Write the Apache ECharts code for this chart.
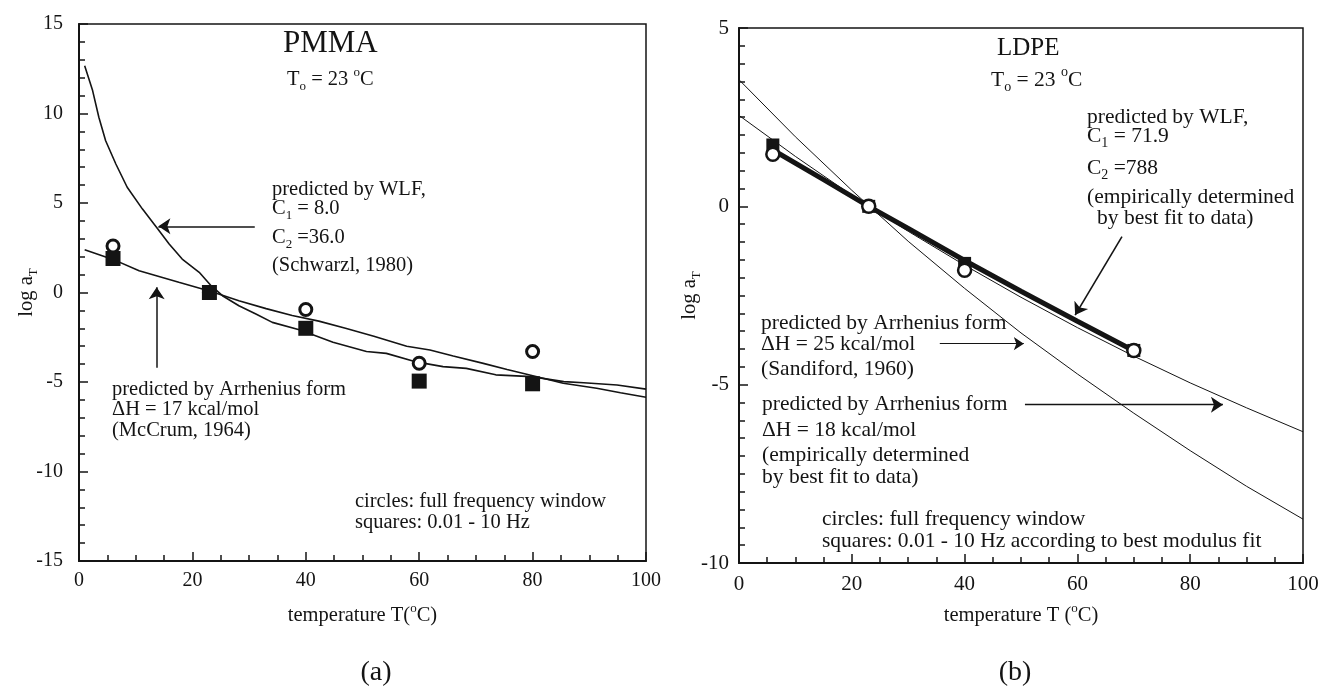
<!DOCTYPE html>
<html>
<head>
<meta charset="utf-8">
<title>log aT vs temperature: PMMA / LDPE</title>
<script src="https://cdn.jsdelivr.net/npm/echarts@6/dist/echarts.min.js"></script>
<style>
  html, body { margin: 0; padding: 0; background: #fff; }
  #chart { width: 1323px; height: 687px; }
</style>
</head>
<body>
<div id="chart"></div>
<script>
/* shift factor log aT against temperature, (a) PMMA and (b) LDPE, To = 23 C */

// ---- (a) PMMA ----
var pmmaTemp    = [6, 23, 40, 60, 80];
var pmmaCircles = [2.6, 0, -0.95, -3.95, -3.3];   // full frequency window
var pmmaSquares = [1.9, 0, -2.0, -4.95, -5.1];    // 0.01 - 10 Hz

// WLF, C1 = 8.0, C2 = 36.0 (Schwarzl, 1980)
var pmmaWlfTemp = [1, 2.4, 3.5, 4.7, 6.5, 8.5, 11.2, 13.9, 15.9, 18.2, 21.2, 23.3, 25.3, 28.2, 31.2,
                   34.1, 39, 44.8, 50.7, 54.2, 59.2, 64.2, 68.3, 73.5, 79.8, 85.5, 89, 94.9, 100];
var pmmaWlfLog  = [12.67, 11.28, 9.79, 8.48, 7.18, 5.88, 4.66, 3.55, 2.71, 1.87, 1.13, 0.38, -0.18, -0.74, -1.2,
                   -1.67, -2.09, -2.78, -3.3, -3.4, -3.86, -4.14, -4.24, -4.6, -4.7, -4.98, -5.04, -5.17, -5.4];

// Arrhenius, dH = 17 kcal/mol (McCrum, 1964)
var pmmaArrTemp = [1, 6, 10.6, 17.6, 23.3, 28.2, 33, 37.6, 42.3, 47, 52, 57.8, 61.9, 66, 71.3, 75.5, 79.5, 85.4, 91.3, 95.5, 100];
var pmmaArrLog  = [2.39, 1.85, 1.22, 0.57, 0.05, -0.46, -0.9, -1.29, -1.6, -2.0, -2.45, -3.0, -3.21, -3.55, -3.96,
                   -4.3, -4.61, -5.07, -5.35, -5.6, -5.85];

// ---- (b) LDPE ----
var ldpeTemp    = [6, 23, 40, 70];
var ldpeCircles = [1.46, 0, -1.79, -4.04];
var ldpeSquares = [1.72, 0, -1.6, -4.04];

// WLF, C1 = 71.9, C2 = 788 (best fit)
var ldpeWlfTemp = [6, 15, 23, 30, 40, 50, 60, 70];
var ldpeWlfLog  = [1.58, 0.75, 0, -0.62, -1.52, -2.38, -3.22, -4.05];

// Arrhenius lines
var ldpeArrTemp = [0, 10, 20, 30, 40, 50, 60, 70, 80, 90, 100];
var ldpeArr25   = [3.55, 1.95, 0.45, -0.98, -2.3, -3.55, -4.7, -5.8, -6.85, -7.85, -8.77];  // Sandiford, 1960
var ldpeArr18   = [2.55, 1.4, 0.31, -0.7, -1.65, -2.55, -3.4, -4.2, -4.95, -5.65, -6.32];  // best fit

var F = 'Liberation Serif, Times New Roman, serif';
var INK = '#141414';

function pairs(xs, ys) {
	return xs.map(function (x, i) { return [x, ys[i]]; });
}

// sub/superscript styles for rich text
function rich(size) {
	var small = Math.round(size * 0.64);
	var lh = Math.round(size * 1.1);
	var off = Math.round(size * 0.7);
	return {
		s: { fontFamily: F, fontSize: small, lineHeight: lh, padding: [off, 0, 0, 0], color: INK },
		p: { fontFamily: F, fontSize: small, lineHeight: lh, padding: [0, 0, off, 0], color: INK }
	};
}

function xAx(gi, name, fs, margin, gap) {
	return {
		type: 'value', gridIndex: gi, min: 0, max: 100, interval: 20,
		name: name, nameLocation: 'middle', nameGap: gap, nameMoveOverlap: false,
		nameTextStyle: { fontFamily: F, fontSize: 20.5, color: INK, rich: rich(20.5) },
		axisLine: { show: true, onZero: false, lineStyle: { color: INK, width: 2 } },
		axisTick: { show: true, inside: true, length: 9, lineStyle: { color: INK, width: 1.5 } },
		minorTick: { show: true, splitNumber: 4, length: 6, lineStyle: { color: INK, width: 1.5 } },
		axisLabel: { fontFamily: F, fontSize: fs, color: INK, margin: margin, showMinLabel: true, showMaxLabel: true },
		splitLine: { show: false }
	};
}

function yAx(gi, min, max, minorSplit, fs, margin, gap) {
	return {
		type: 'value', gridIndex: gi, min: min, max: max, interval: 5,
		name: 'log a{s|T}', nameLocation: 'middle', nameGap: gap, nameRotate: 90, nameMoveOverlap: false,
		nameTextStyle: { fontFamily: F, fontSize: 20.5, color: INK, rich: rich(20.5) },
		axisLine: { show: true, onZero: false, lineStyle: { color: INK, width: 2 } },
		axisTick: { show: true, inside: true, length: 9, lineStyle: { color: INK, width: 1.5 } },
		minorTick: { show: true, splitNumber: minorSplit, length: 6, lineStyle: { color: INK, width: 1.5 } },
		axisLabel: { fontFamily: F, fontSize: fs, color: INK, margin: margin, showMinLabel: true, showMaxLabel: true },
		splitLine: { show: false }
	};
}

function curve(gi, data, width) {
	return {
		type: 'line', xAxisIndex: gi, yAxisIndex: gi, data: data,
		showSymbol: false, symbol: 'none', silent: true,
		lineStyle: { color: INK, width: width, opacity: 1 }
	};
}

function arrow(gi, from, to, width, size) {
	return {
		type: 'lines', coordinateSystem: 'cartesian2d', xAxisIndex: gi, yAxisIndex: gi,
		symbol: ['none', 'arrow'], symbolSize: size, silent: true, z: 4,
		lineStyle: { color: INK, width: width, opacity: 1 },
		data: [{ coords: [from, to] }]
	};
}

function squares(gi, data, size, z) {
	return {
		type: 'scatter', xAxisIndex: gi, yAxisIndex: gi, data: data, symbol: 'rect',
		symbolSize: size, z: z, silent: true, itemStyle: { color: INK, opacity: 1 }
	};
}

function circles(gi, data, size, bw, z) {
	return {
		type: 'scatter', xAxisIndex: gi, yAxisIndex: gi, data: data, symbol: 'circle',
		symbolSize: size, z: z, silent: true,
		itemStyle: { color: '#fff', borderColor: INK, borderWidth: bw, opacity: 1 }
	};
}

// annotation text: [left x, middle y, text, font size, align]
var notes = [
	[283, 44, 'PMMA', 31],
	[287, 80, 'T{s|o} = 23 {p|o}C', 20.5],
	[272, 190, 'predicted by WLF,', 20.5],
	[272, 209, 'C{s|1} = 8.0', 20.5],
	[272, 237.5, 'C{s|2} =36.0', 20.5],
	[272, 265.5, '(Schwarzl, 1980)', 20.5],
	[112, 390, 'predicted by Arrhenius form', 20.5],
	[112, 410, '\u0394H = 17 kcal/mol', 20.5],
	[112, 431, '(McCrum, 1964)', 20.5],
	[355, 502, 'circles: full frequency window', 20.5],
	[355, 523, 'squares: 0.01 - 10 Hz', 20.5],
	[376, 673, '(a)', 28, 'center'],

	[997, 48.5, 'LDPE', 25],
	[991, 80, 'T{s|o} = 23 {p|o}C', 21.5],
	[1087, 117, 'predicted by WLF,', 21.5],
	[1087, 136, 'C{s|1} = 71.9', 21.5],
	[1087, 168, 'C{s|2} =788', 21.5],
	[1087, 197, '(empirically determined', 21.5],
	[1097, 218, 'by best fit to data)', 21.5],
	[761, 323, 'predicted by Arrhenius form', 21.5],
	[761, 344, '\u0394H = 25 kcal/mol', 21.5],
	[761, 369, '(Sandiford, 1960)', 21.5],
	[762, 404, 'predicted by Arrhenius form', 21.5],
	[762, 430, '\u0394H = 18 kcal/mol', 21.5],
	[762, 455, '(empirically determined', 21.5],
	[762, 477, 'by best fit to data)', 21.5],
	[822, 519, 'circles: full frequency window', 21.5],
	[822, 541, 'squares: 0.01 - 10 Hz according to best modulus fit', 21.5],
	[1015, 673, '(b)', 28, 'center']
];

var chart = echarts.init(document.getElementById('chart'));

var option = {
	animation: false,
	backgroundColor: '#fff',
	textStyle: { fontFamily: F },
	grid: [
		{ left: 79, top: 24, width: 567, height: 537, show: true, borderColor: INK, borderWidth: 1.5, outerBoundsMode: 'none' },
		{ left: 739, top: 28, width: 564, height: 535, show: true, borderColor: INK, borderWidth: 1.5, outerBoundsMode: 'none' }
	],
	xAxis: [
		xAx(0, 'temperature T({p|o}C)', 20, 10, 43),
		xAx(1, 'temperature T ({p|o}C)', 21, 11, 41)
	],
	yAxis: [
		yAx(0, -15, 15, 5, 20, 16, 41),
		yAx(1, -10, 5, 10, 21, 10, 38)
	],
	series: [
		// (a)
		curve(0, pairs(pmmaWlfTemp, pmmaWlfLog), 1.6),
		curve(0, pairs(pmmaArrTemp, pmmaArrLog), 1.6),
		circles(0, pairs(pmmaTemp, pmmaCircles), 12, 3, 3),
		squares(0, pairs(pmmaTemp, pmmaSquares), 15, 4),
		arrow(0, [31, 3.7], [14, 3.7], 1.5, 12),
		arrow(0, [13.7, -4.2], [13.7, 0.3], 1.5, 12),

		// (b)
		curve(1, pairs(ldpeArrTemp, ldpeArr25), 1),
		curve(1, pairs(ldpeArrTemp, ldpeArr18), 1),
		curve(1, pairs(ldpeWlfTemp, ldpeWlfLog), 5),
		squares(1, pairs(ldpeTemp, ldpeSquares), 13, 3),
		circles(1, pairs(ldpeTemp, ldpeCircles), 13, 2.5, 4),
		arrow(1, [67.9, -0.85], [59.6, -3.05], 1.6, 12),
		arrow(1, [35.6, -3.85], [50.5, -3.85], 1, 10),
		arrow(1, [50.7, -5.56], [85.8, -5.56], 1.4, 12)
	],
	graphic: notes.map(function (n) {
		var align = n[4] || 'left';
		return {
			type: 'text', x: n[0], y: n[1], silent: true, z: 10,
			style: {
				text: n[2], fontFamily: F, fontSize: n[3], lineHeight: Math.round(n[3] * 1.1),
				fill: INK, align: align, textAlign: align,
				verticalAlign: 'middle', textVerticalAlign: 'middle',
				rich: rich(n[3])
			}
		};
	})
};

chart.setOption(option);
</script>
</body>
</html>
